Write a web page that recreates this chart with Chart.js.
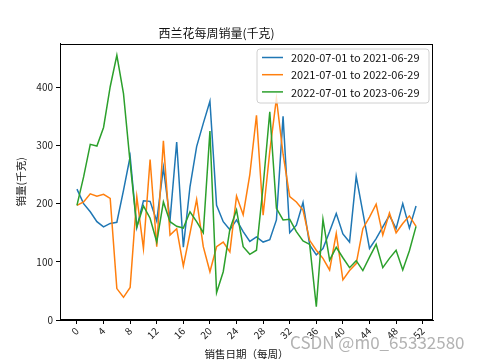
<!DOCTYPE html>
<html><head><meta charset="utf-8">
<script src="https://cdn.jsdelivr.net/npm/chart.js@4"></script>
<style>html,body{margin:0;padding:0;background:#fff}#wrap{width:481px;height:361px}</style>
</head><body><div id="wrap"><canvas id="c" width="481" height="361"></canvas></div>
<script>
const chartTitle = '西兰花每周销量(千克)';
const xTitle = '销售日期（每周）';
const yTitle = '销量(千克)';
const weeks = [0,1,2,3,4,5,6,7,8,9,10,11,12,13,14,15,16,17,18,19,20,21,22,23,24,25,26,27,28,29,30,31,32,33,34,35,36,37,38,39,40,41,42,43,44,45,46,47,48,49,50,51];
const seriesNames = ['2020-07-01 to 2021-06-29','2021-07-01 to 2022-06-29','2022-07-01 to 2023-06-29'];
const sales2020 = [225,200,186,169,160,166,168,223,281,159,205,204,170,262,172,306,125,229,298,338,376,197,169,155,172,152,135,143,134,138,172,350,150,163,202,129,112,123,152,183,148,134,247,185,123,140,160,180,157,200,158,196];
const sales2021 = [197,203,217,213,216,209,54,39,56,212,123,276,126,308,146,157,93,149,207,126,83,126,134,117,213,181,250,352,180,290,381,285,212,203,189,137,120,106,86,149,69,85,97,157,177,199,146,184,150,166,179,161];
const sales2022 = [197,246,302,299,331,401,455,389,270,160,196,175,134,203,169,161,158,186,169,150,325,47,83,156,189,126,113,120,230,358,192,172,173,152,136,130,23,173,103,125,107,90,102,85,108,130,90,106,120,86,119,161];
const xTicks = [0,4,8,12,16,20,24,28,32,36,40,44,48,52];
const yTicks = [0,100,200,300,400];
const colors = ['#1f77b4','#ff7f0e','#2ca02c'];
const watermark = 'CSDN @m0_65332580';
const FONT = "'Noto Sans CJK SC','Noto Sans',sans-serif";

const allSeries = [sales2020, sales2021, sales2022];
const datasets = allSeries.map((s, k) => ({
  label: seriesNames[k],
  data: s.map((v, i) => ({x: weeks[i], y: v})),
  borderColor: colors[k],
  backgroundColor: colors[k],
  borderWidth: 1.5,
  pointRadius: 0,
  tension: 0,
  fill: false,
  order: 2 - k
}));

const decor = {
  id: 'decor',
  afterDatasetsDraw(chart) {
    const ctx = chart.ctx, a = chart.chartArea;
    ctx.save();
    ctx.strokeStyle = '#000'; ctx.lineWidth = 1;
    ctx.strokeRect(Math.round(a.left) + 0.5, Math.round(a.top) + 0.5, Math.round(a.right - a.left) - 1, Math.round(a.bottom - a.top) - 1);
    // legend
    const lx = 257, ly = 49, lw = 172, lh = 54, r = 3;
    ctx.beginPath();
    ctx.moveTo(lx + r, ly); ctx.lineTo(lx + lw - r, ly); ctx.arcTo(lx + lw, ly, lx + lw, ly + r, r);
    ctx.lineTo(lx + lw, ly + lh - r); ctx.arcTo(lx + lw, ly + lh, lx + lw - r, ly + lh, r);
    ctx.lineTo(lx + r, ly + lh); ctx.arcTo(lx, ly + lh, lx, ly + lh - r, r);
    ctx.lineTo(lx, ly + r); ctx.arcTo(lx, ly, lx + r, ly, r); ctx.closePath();
    ctx.fillStyle = 'rgba(255,255,255,0.8)'; ctx.fill();
    ctx.strokeStyle = '#d0d0d0'; ctx.lineWidth = 1; ctx.stroke();
    ctx.font = '11px ' + FONT; ctx.textBaseline = 'middle'; ctx.textAlign = 'left';
    chart.data.datasets.forEach((d, i) => {
      const y = 57.5 + i * 17.2;
      ctx.strokeStyle = d.borderColor; ctx.lineWidth = 1.5;
      ctx.beginPath(); ctx.moveTo(262, y); ctx.lineTo(283, y); ctx.stroke();
      ctx.fillStyle = '#111';
      ctx.fillText(d.label, 291, y + 0.5);
    });
    ctx.restore();
  },
  afterDraw(chart) {
    const ctx = chart.ctx;
    ctx.save();
    ctx.font = '17px ' + FONT;
    ctx.textBaseline = 'middle'; ctx.textAlign = 'left';
    ctx.fillStyle = 'rgba(170,170,170,0.9)';
    ctx.fillText(watermark, 290, 343);
    ctx.restore();
  }
};

new Chart(document.getElementById('c'), {
  type: 'line',
  data: {datasets},
  options: {
    responsive: false,
    animation: false,
    devicePixelRatio: 1,
    layout: {padding: {left: 0, right: 48, top: 0, bottom: 0}},
    plugins: {
      legend: {display: false},
      tooltip: {enabled: false},
      title: {display: true, text: chartTitle, color: '#111', font: {family: FONT, size: 12, weight: 'normal'}, padding: {top: 26, bottom: 3.3}}
    },
    scales: {
      x: {
        type: 'linear', min: -2.55, max: 53.55, offset: false,
        afterBuildTicks: s => { s.ticks = xTicks.map(v => ({value: v})); },
        afterFit: s => { s.height = 41; },
        grid: {display: true, drawOnChartArea: false, drawTicks: true, tickLength: 4, color: '#000'},
        border: {display: true, color: '#000'},
        ticks: {autoSkip: false, minRotation: 45, maxRotation: 45, padding: 1, color: '#222', font: {family: FONT, size: 10}},
        title: {display: true, text: xTitle, color: '#111', font: {family: FONT, size: 10.5}, padding: {top: 0, bottom: 1}}
      },
      y: {
        type: 'linear', min: 0, max: 475,
        afterBuildTicks: s => { s.ticks = yTicks.map(v => ({value: v})); },
        afterFit: s => { s.width = 60; },
        grid: {display: true, drawOnChartArea: false, drawTicks: true, tickLength: 4, color: '#000'},
        border: {display: true, color: '#000'},
        ticks: {padding: 3, color: '#222', font: {family: FONT, size: 10}},
        title: {display: true, text: yTitle, color: '#111', font: {family: FONT, size: 10.5}, padding: {top: 15, bottom: 0}}
      }
    }
  },
  plugins: [decor]
});
</script></body></html>
